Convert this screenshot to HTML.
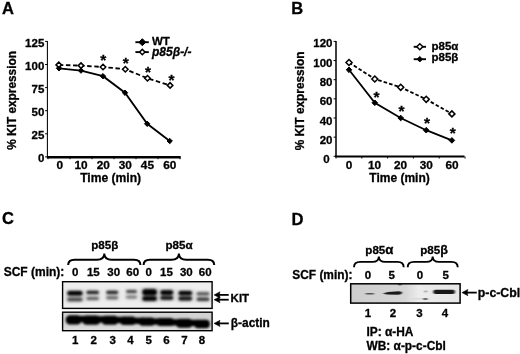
<!DOCTYPE html>
<html><head><meta charset="utf-8"><title>Figure</title>
<style>
html,body{margin:0;padding:0;background:#fff;}
svg{display:block;opacity:0.999;font-family:"Liberation Sans",sans-serif;font-weight:bold;fill:#000;}
text{stroke:#000;stroke-width:0.3px;}
</style></head><body>
<svg width="520" height="354" viewBox="0 0 520 354">
<rect width="520" height="354" fill="#fff"/>
<text x="2.00" y="13.80" font-size="16.5" text-anchor="start">A</text>
<path d="M47.4 40.9 V157.2" fill="none" stroke="#000" stroke-width="1.05"/>
<path d="M46.9 157.2 H180.7" fill="none" stroke="#000" stroke-width="2.4"/>
<path d="M45.1 41.40 H47.4" stroke="#000" stroke-width="1"/>
<text x="44.30" y="47.40" font-size="11.5" text-anchor="end">125</text>
<path d="M45.1 64.50 H47.4" stroke="#000" stroke-width="1"/>
<text x="44.30" y="70.25" font-size="11.5" text-anchor="end">100</text>
<path d="M45.1 87.60 H47.4" stroke="#000" stroke-width="1"/>
<text x="44.30" y="93.10" font-size="11.5" text-anchor="end">75</text>
<path d="M45.1 110.70 H47.4" stroke="#000" stroke-width="1"/>
<text x="44.30" y="115.95" font-size="11.5" text-anchor="end">50</text>
<path d="M45.1 133.80 H47.4" stroke="#000" stroke-width="1"/>
<text x="44.30" y="138.80" font-size="11.5" text-anchor="end">25</text>
<path d="M45.1 156.90 H47.4" stroke="#000" stroke-width="1"/>
<text x="44.30" y="161.65" font-size="11.5" text-anchor="end">0</text>
<path d="M48 157.2 v2" stroke="#000" stroke-width="1"/>
<path d="M70 157.2 v2" stroke="#000" stroke-width="1"/>
<path d="M92 157.2 v2" stroke="#000" stroke-width="1"/>
<path d="M114 157.2 v2" stroke="#000" stroke-width="1"/>
<path d="M136 157.2 v2" stroke="#000" stroke-width="1"/>
<path d="M158 157.2 v2" stroke="#000" stroke-width="1"/>
<path d="M180 157.2 v2" stroke="#000" stroke-width="1"/>
<text x="59.70" y="169.20" font-size="11.8" text-anchor="middle">0</text>
<text x="81.10" y="169.20" font-size="11.8" text-anchor="middle">10</text>
<text x="103.30" y="169.20" font-size="11.8" text-anchor="middle">20</text>
<text x="125.20" y="169.20" font-size="11.8" text-anchor="middle">30</text>
<text x="147.40" y="169.20" font-size="11.8" text-anchor="middle">45</text>
<text x="169.80" y="169.20" font-size="11.8" text-anchor="middle">60</text>
<text x="110.60" y="182.00" font-size="12.1" text-anchor="middle">Time (min)</text>
<text transform="translate(16.3,100.4) rotate(-90)" font-size="11.85" text-anchor="middle">% KIT expression</text>
<polyline points="59.00,68.30 81.00,70.60 103.00,76.20 125.00,92.75 147.20,123.80 169.70,141.00" fill="none" stroke="#000" stroke-width="1.8"/>
<polyline points="58.80,64.90 81.00,65.60 103.00,67.00 125.30,69.20 147.50,78.30 170.10,85.40" fill="none" stroke="#000" stroke-width="1.8" stroke-dasharray="4.5 2.6"/>
<path d="M56.30 68.30 L59.00 65.60 L61.70 68.30 L59.00 71.00 Z" fill="#000" stroke="#000" stroke-width="1"/>
<path d="M78.30 70.60 L81.00 67.90 L83.70 70.60 L81.00 73.30 Z" fill="#000" stroke="#000" stroke-width="1"/>
<path d="M100.30 76.20 L103.00 73.50 L105.70 76.20 L103.00 78.90 Z" fill="#000" stroke="#000" stroke-width="1"/>
<path d="M122.30 92.75 L125.00 90.05 L127.70 92.75 L125.00 95.45 Z" fill="#000" stroke="#000" stroke-width="1"/>
<path d="M144.50 123.80 L147.20 121.10 L149.90 123.80 L147.20 126.50 Z" fill="#000" stroke="#000" stroke-width="1"/>
<path d="M167.00 141.00 L169.70 138.30 L172.40 141.00 L169.70 143.70 Z" fill="#000" stroke="#000" stroke-width="1"/>
<path d="M56.05 64.90 L58.80 62.15 L61.55 64.90 L58.80 67.65 Z" fill="#fff" stroke="#000" stroke-width="1.5"/>
<path d="M78.25 65.60 L81.00 62.85 L83.75 65.60 L81.00 68.35 Z" fill="#fff" stroke="#000" stroke-width="1.5"/>
<path d="M100.25 67.00 L103.00 64.25 L105.75 67.00 L103.00 69.75 Z" fill="#fff" stroke="#000" stroke-width="1.5"/>
<path d="M122.55 69.20 L125.30 66.45 L128.05 69.20 L125.30 71.95 Z" fill="#fff" stroke="#000" stroke-width="1.5"/>
<path d="M144.75 78.30 L147.50 75.55 L150.25 78.30 L147.50 81.05 Z" fill="#fff" stroke="#000" stroke-width="1.5"/>
<path d="M167.35 85.40 L170.10 82.65 L172.85 85.40 L170.10 88.15 Z" fill="#fff" stroke="#000" stroke-width="1.5"/>
<text x="103.30" y="65.20" font-size="15.5" text-anchor="middle">*</text>
<text x="125.70" y="68.20" font-size="15.5" text-anchor="middle">*</text>
<text x="148.10" y="77.30" font-size="15.5" text-anchor="middle">*</text>
<text x="171.50" y="84.80" font-size="15.5" text-anchor="middle">*</text>
<path d="M135.4 42.2 H148.8" stroke="#000" stroke-width="1.9"/>
<path d="M138.80 42.20 L142.30 38.70 L145.80 42.20 L142.30 45.70 Z" fill="#000" stroke="#000" stroke-width="1"/>
<path d="M135.4 52.1 H148.8" stroke="#000" stroke-width="1.9"/>
<path d="M139.60 52.10 L142.30 49.40 L145.00 52.10 L142.30 54.80 Z" fill="#fff" stroke="#000" stroke-width="1.45"/>
<text x="152.00" y="44.70" font-size="11.5" text-anchor="start">WT</text>
<text x="152.00" y="55.60" font-size="12" text-anchor="start" font-style="italic">p85β-/-</text>
<text x="291.30" y="13.80" font-size="16.5" text-anchor="start">B</text>
<path d="M336 40.9 V156.5" fill="none" stroke="#000" stroke-width="1.5"/>
<path d="M335.3 156.5 H464.5" fill="none" stroke="#000" stroke-width="1.9"/>
<path d="M333.6 41.40 H336" stroke="#000" stroke-width="1"/>
<text x="332.50" y="47.45" font-size="11.5" text-anchor="end">120</text>
<path d="M333.6 60.55 H336" stroke="#000" stroke-width="1"/>
<text x="332.50" y="66.78" font-size="11.5" text-anchor="end">100</text>
<path d="M333.6 79.70 H336" stroke="#000" stroke-width="1"/>
<text x="332.50" y="86.11" font-size="11.5" text-anchor="end">80</text>
<path d="M333.6 98.85 H336" stroke="#000" stroke-width="1"/>
<text x="332.50" y="105.44" font-size="11.5" text-anchor="end">60</text>
<path d="M333.6 118.00 H336" stroke="#000" stroke-width="1"/>
<text x="332.50" y="124.77" font-size="11.5" text-anchor="end">40</text>
<path d="M333.6 137.15 H336" stroke="#000" stroke-width="1"/>
<text x="332.50" y="144.10" font-size="11.5" text-anchor="end">20</text>
<path d="M333.6 156.30 H336" stroke="#000" stroke-width="1"/>
<text x="329.70" y="163.43" font-size="11.5" text-anchor="end">0</text>
<path d="M336.00 156.5 v2" stroke="#000" stroke-width="1"/>
<path d="M361.80 156.5 v2" stroke="#000" stroke-width="1"/>
<path d="M387.60 156.5 v2" stroke="#000" stroke-width="1"/>
<path d="M413.40 156.5 v2" stroke="#000" stroke-width="1"/>
<path d="M439.20 156.5 v2" stroke="#000" stroke-width="1"/>
<path d="M465.00 156.5 v2" stroke="#000" stroke-width="1"/>
<text x="349.00" y="168.70" font-size="11.8" text-anchor="middle">0</text>
<text x="374.60" y="168.70" font-size="11.8" text-anchor="middle">10</text>
<text x="400.60" y="168.70" font-size="11.8" text-anchor="middle">20</text>
<text x="426.30" y="168.70" font-size="11.8" text-anchor="middle">30</text>
<text x="452.00" y="168.70" font-size="11.8" text-anchor="middle">60</text>
<text x="399.50" y="182.00" font-size="12" text-anchor="middle">Time (min)</text>
<text transform="translate(304.2,100.9) rotate(-90)" font-size="11.85" text-anchor="middle">% KIT expression</text>
<polyline points="349.00,62.50 374.80,79.00 400.70,87.30 426.20,99.30 451.90,113.90" fill="none" stroke="#000" stroke-width="1.8" stroke-dasharray="3.6 2.1"/>
<polyline points="349.00,69.80 374.80,102.80 400.70,118.00 426.20,130.20 451.90,140.40" fill="none" stroke="#000" stroke-width="1.8"/>
<path d="M346.00 62.50 L349.00 59.50 L352.00 62.50 L349.00 65.50 Z" fill="#fff" stroke="#000" stroke-width="1.55"/>
<path d="M371.80 79.00 L374.80 76.00 L377.80 79.00 L374.80 82.00 Z" fill="#fff" stroke="#000" stroke-width="1.55"/>
<path d="M397.70 87.30 L400.70 84.30 L403.70 87.30 L400.70 90.30 Z" fill="#fff" stroke="#000" stroke-width="1.55"/>
<path d="M423.20 99.30 L426.20 96.30 L429.20 99.30 L426.20 102.30 Z" fill="#fff" stroke="#000" stroke-width="1.55"/>
<path d="M448.90 113.90 L451.90 110.90 L454.90 113.90 L451.90 116.90 Z" fill="#fff" stroke="#000" stroke-width="1.55"/>
<path d="M346.20 69.80 L349.00 67.00 L351.80 69.80 L349.00 72.60 Z" fill="#000" stroke="#000" stroke-width="1"/>
<path d="M372.00 102.80 L374.80 100.00 L377.60 102.80 L374.80 105.60 Z" fill="#000" stroke="#000" stroke-width="1"/>
<path d="M397.90 118.00 L400.70 115.20 L403.50 118.00 L400.70 120.80 Z" fill="#000" stroke="#000" stroke-width="1"/>
<path d="M423.40 130.20 L426.20 127.40 L429.00 130.20 L426.20 133.00 Z" fill="#000" stroke="#000" stroke-width="1"/>
<path d="M449.10 140.40 L451.90 137.60 L454.70 140.40 L451.90 143.20 Z" fill="#000" stroke="#000" stroke-width="1"/>
<text x="376.40" y="101.70" font-size="15.5" text-anchor="middle">*</text>
<text x="401.60" y="116.20" font-size="15.5" text-anchor="middle">*</text>
<text x="427.10" y="127.90" font-size="15.5" text-anchor="middle">*</text>
<text x="452.80" y="137.90" font-size="15.5" text-anchor="middle">*</text>
<path d="M413.7 46.8 H426" stroke="#000" stroke-width="1.9"/>
<path d="M416.80 46.80 L419.80 43.80 L422.80 46.80 L419.80 49.80 Z" fill="#fff" stroke="#000" stroke-width="1.5"/>
<path d="M413.7 59.2 H426" stroke="#000" stroke-width="1.9"/>
<path d="M417.10 59.20 L419.80 56.50 L422.50 59.20 L419.80 61.90 Z" fill="#000" stroke="#000" stroke-width="1"/>
<text x="431.50" y="49.70" font-size="11.5" text-anchor="start">p85α</text>
<text x="431.50" y="61.40" font-size="11.5" text-anchor="start">p85β</text>
<text x="2.00" y="224.30" font-size="16.5" text-anchor="start">C</text>
<text x="104.70" y="249.00" font-size="11.6" text-anchor="middle">p85β</text>
<text x="179.00" y="249.00" font-size="11.6" text-anchor="middle">p85α</text>
<path d="M68.2 265 Q68.2 259.7 74.50000000000001 259.7 H97.00000000000003 Q104.30000000000001 259.7 104.30000000000001 253.4 Q104.30000000000001 259.7 111.6 259.7 H134.1 Q140.4 259.7 140.4 265" fill="none" stroke="#000" stroke-width="2.0"/>
<path d="M143.6 265 Q143.6 259.7 149.9 259.7 H171.6 Q178.89999999999998 259.7 178.89999999999998 253.4 Q178.89999999999998 259.7 186.19999999999996 259.7 H207.89999999999998 Q214.2 259.7 214.2 265" fill="none" stroke="#000" stroke-width="2.0"/>
<text x="3.70" y="276.40" font-size="12" text-anchor="start">SCF (min):</text>
<text x="75.10" y="276.40" font-size="11.5" text-anchor="middle">0</text>
<text x="93.30" y="276.40" font-size="11.5" text-anchor="middle">15</text>
<text x="113.75" y="276.40" font-size="11.5" text-anchor="middle">30</text>
<text x="132.70" y="276.40" font-size="11.5" text-anchor="middle">60</text>
<text x="148.80" y="276.40" font-size="11.5" text-anchor="middle">0</text>
<text x="166.50" y="276.40" font-size="11.5" text-anchor="middle">15</text>
<text x="186.30" y="276.40" font-size="11.5" text-anchor="middle">30</text>
<text x="205.20" y="276.40" font-size="11.5" text-anchor="middle">60</text>
<defs><filter id="b1" x="-30%" y="-80%" width="160%" height="260%"><feGaussianBlur stdDeviation="0.9 0.8"/></filter><filter id="b0" x="-30%" y="-80%" width="160%" height="260%"><feGaussianBlur stdDeviation="2 1.6"/></filter><filter id="b2" x="-20%" y="-50%" width="140%" height="200%"><feGaussianBlur stdDeviation="0.9 0.85"/></filter><filter id="b3" x="-30%" y="-100%" width="160%" height="300%"><feGaussianBlur stdDeviation="0.9 0.7"/></filter><linearGradient id="gd" x1="0" x2="1" y1="0" y2="0"><stop offset="0" stop-color="#cdcdcd"/><stop offset="0.5" stop-color="#d6d6d6"/><stop offset="0.62" stop-color="#ececec"/><stop offset="1" stop-color="#e6e6e6"/></linearGradient><linearGradient id="ga" x1="0" x2="0" y1="0" y2="1"><stop offset="0" stop-color="#d6d6d6"/><stop offset="0.5" stop-color="#cccccc"/><stop offset="1" stop-color="#e0e0e0"/></linearGradient><clipPath id="c1"><rect x="62.6" y="281.7" width="149.5" height="26.7"/></clipPath><clipPath id="c2"><rect x="62.6" y="312.2" width="149.5" height="18.5"/></clipPath><clipPath id="c3"><rect x="350.7" y="283.8" width="109.4" height="19.3"/></clipPath></defs>
<rect x="62.6" y="281.7" width="149.5" height="26.7" fill="#eeeeee"/>
<g clip-path="url(#c1)">
<g filter="url(#b0)">
<rect x="66.9" y="289.9" width="16.0" height="12.3" fill="#000" opacity="0.27"/>
<rect x="86.1" y="289.8" width="13.2" height="11.3" fill="#000" opacity="0.18"/>
<rect x="105.9" y="289.7" width="12.6" height="10.6" fill="#000" opacity="0.18"/>
<rect x="125.7" y="289.0" width="11.6" height="10.6" fill="#000" opacity="0.15"/>
<rect x="142.0" y="288.2" width="15.2" height="13.5" fill="#000" opacity="0.36"/>
<rect x="160.0" y="289.3" width="13.6" height="11.4" fill="#000" opacity="0.30"/>
<rect x="178.2" y="290.1" width="14.2" height="11.3" fill="#000" opacity="0.30"/>
<rect x="196.3" y="291.2" width="13.4" height="10.9" fill="#000" opacity="0.18"/>
</g><g filter="url(#b1)">
<rect x="67.3" y="290.9" width="15.2" height="4.6" rx="2.3" fill="#000" opacity="0.97"/>
<rect x="67.3" y="297.8" width="15.2" height="3.4" rx="1.7" fill="#000" opacity="0.55"/>
<rect x="86.5" y="290.8" width="12.4" height="3.2" rx="1.6" fill="#000" opacity="0.8"/>
<rect x="86.5" y="297.1" width="12.4" height="3.0" rx="1.5" fill="#000" opacity="0.47"/>
<rect x="106.3" y="290.7" width="11.8" height="3.2" rx="1.6" fill="#000" opacity="0.78"/>
<rect x="106.3" y="296.3" width="11.8" height="3.0" rx="1.5" fill="#000" opacity="0.45"/>
<rect x="126.1" y="290.0" width="10.8" height="3.0" rx="1.5" fill="#000" opacity="0.64"/>
<rect x="126.1" y="295.8" width="10.8" height="2.8" rx="1.4" fill="#000" opacity="0.38"/>
<rect x="142.4" y="289.2" width="14.4" height="6.0" rx="3.0" fill="#000" opacity="1.0"/>
<rect x="142.4" y="296.3" width="14.4" height="4.4" rx="2.2" fill="#000" opacity="0.97"/>
<rect x="160.4" y="290.3" width="12.8" height="4.6" rx="2.3" fill="#000" opacity="0.97"/>
<rect x="160.4" y="296.1" width="12.8" height="3.6" rx="1.8" fill="#000" opacity="0.85"/>
<rect x="178.6" y="291.1" width="13.4" height="4.2" rx="2.1" fill="#000" opacity="0.95"/>
<rect x="178.6" y="296.6" width="13.4" height="3.9" rx="1.95" fill="#000" opacity="0.85"/>
<rect x="196.7" y="292.2" width="12.6" height="3.0" rx="1.5" fill="#000" opacity="0.55"/>
<rect x="196.7" y="297.6" width="12.6" height="3.5" rx="1.75" fill="#000" opacity="0.66"/>
</g></g>
<rect x="62.6" y="281.7" width="149.5" height="26.7" fill="none" stroke="#000" stroke-width="1.4"/>
<rect x="62.6" y="312.2" width="149.5" height="18.5" fill="url(#ga)"/>
<g clip-path="url(#c2)" filter="url(#b2)">
<rect x="65.7" y="315.2" width="15.7" height="9.3" rx="4.4" fill="#000"/>
<rect x="76.9" y="315.9" width="9.8" height="6.3" fill="#000"/>
<rect x="82.2" y="315.4" width="18.3" height="9.3" rx="4.4" fill="#000"/>
<rect x="96.0" y="316.2" width="10.0" height="6.3" fill="#000"/>
<rect x="101.5" y="315.8" width="17.0" height="9.0" rx="4.2" fill="#000"/>
<rect x="114.0" y="316.8" width="10.5" height="6.3" fill="#000"/>
<rect x="120.0" y="316.6" width="16.0" height="8.5" rx="4.0" fill="#000"/>
<rect x="131.5" y="317.7" width="11.8" height="6.3" fill="#000"/>
<rect x="138.8" y="317.5" width="16.2" height="8.2" rx="3.8" fill="#000"/>
<rect x="150.5" y="318.4" width="10.5" height="6.3" fill="#000"/>
<rect x="156.5" y="317.9" width="17.7" height="8.2" rx="3.8" fill="#000"/>
<rect x="169.7" y="319.2" width="10.6" height="6.3" fill="#000"/>
<rect x="175.8" y="318.7" width="16.9" height="9.0" rx="4.2" fill="#000"/>
<rect x="188.2" y="319.8" width="10.5" height="6.3" fill="#000"/>
<rect x="194.2" y="319.7" width="15.6" height="8.6" rx="4.0" fill="#000"/>
</g>
<rect x="62.6" y="312.2" width="149.5" height="18.5" fill="none" stroke="#000" stroke-width="1.4"/>
<text x="75.10" y="344.00" font-size="11.5" text-anchor="middle">1</text>
<text x="93.80" y="344.00" font-size="11.5" text-anchor="middle">2</text>
<text x="112.60" y="344.00" font-size="11.5" text-anchor="middle">3</text>
<text x="130.50" y="344.00" font-size="11.5" text-anchor="middle">4</text>
<text x="148.75" y="344.00" font-size="11.5" text-anchor="middle">5</text>
<text x="166.50" y="344.00" font-size="11.5" text-anchor="middle">6</text>
<text x="184.50" y="344.00" font-size="11.5" text-anchor="middle">7</text>
<text x="202.00" y="344.00" font-size="11.5" text-anchor="middle">8</text>
<path d="M217 294.9 H228.7" stroke="#000" stroke-width="1.8"/><path d="M214 294.9 L220 291.79999999999995 L219.2 294.9 L220 298.0 Z" fill="#000" stroke="#000" stroke-width="0.5" stroke-linejoin="round"/>
<path d="M217 299.7 H228.7" stroke="#000" stroke-width="1.8"/><path d="M214 299.7 L220 296.59999999999997 L219.2 299.7 L220 302.8 Z" fill="#000" stroke="#000" stroke-width="0.5" stroke-linejoin="round"/>
<text x="230.60" y="301.70" font-size="11.5" text-anchor="start">KIT</text>
<path d="M217 323.4 H228.8" stroke="#000" stroke-width="1.8"/><path d="M214 323.4 L220 320.29999999999995 L219.2 323.4 L220 326.5 Z" fill="#000" stroke="#000" stroke-width="0.5" stroke-linejoin="round"/>
<text x="230.80" y="326.60" font-size="11.9" text-anchor="start">β-actin</text>
<text x="291.50" y="224.50" font-size="16.6" text-anchor="start">D</text>
<text x="365.30" y="254.00" font-size="11.6" text-anchor="start">p85<tspan font-size="13.2">α</tspan></text>
<text x="420.20" y="254.00" font-size="11.6" text-anchor="start">p85<tspan font-size="12.6">β</tspan></text>
<path d="M354 267.2 Q354 261.9 360.3 261.9 H372.35 Q378.85 261.9 378.85 256.4 Q378.85 261.9 385.35 261.9 H397.4 Q403.7 261.9 403.7 267.2" fill="none" stroke="#000" stroke-width="1.9"/>
<path d="M407.7 267.2 Q407.7 261.9 414.0 261.9 H426.2 Q432.7 261.9 432.7 256.4 Q432.7 261.9 439.2 261.9 H451.4 Q457.7 261.9 457.7 267.2" fill="none" stroke="#000" stroke-width="1.9"/>
<text x="292.30" y="279.00" font-size="11.9" text-anchor="start">SCF (min):</text>
<text x="368.00" y="278.90" font-size="11.5" text-anchor="middle">0</text>
<text x="391.80" y="278.90" font-size="11.5" text-anchor="middle">5</text>
<text x="420.00" y="278.90" font-size="11.5" text-anchor="middle">0</text>
<text x="445.80" y="278.90" font-size="11.5" text-anchor="middle">5</text>
<rect x="350.7" y="283.8" width="109.4" height="19.3" fill="url(#gd)"/>
<g clip-path="url(#c3)" filter="url(#b3)">
<rect x="365.5" y="292.9" width="8.5" height="1.5" rx="0.7" fill="#000" opacity="0.6"/>
<path d="M382.8 293.4 L388 292.0 L399 291.3 Q402.3 291.6 402 293.1 Q401.6 294.6 398 294.7 L387 294.6 Z" fill="#000" opacity="0.88"/>
<rect x="433.2" y="289.8" width="21.8" height="4.3" rx="2.1" fill="#000" opacity="0.9"/>
<rect x="423.2" y="297.9" width="4.4" height="2" rx="1" fill="#000" opacity="0.6"/>
<rect x="413" y="298.3" width="11" height="1.1" fill="#000" opacity="0.1"/>
<rect x="424.6" y="290.6" width="2.2" height="1.8" rx="0.9" fill="#000" opacity="0.45"/>
<rect x="398.6" y="283.2" width="2.6" height="2.4" rx="1" fill="#000" opacity="0.8"/>
</g>
<rect x="350.7" y="283.8" width="109.4" height="19.3" fill="none" stroke="#000" stroke-width="1.5"/>
<text x="368.00" y="316.70" font-size="11.5" text-anchor="middle">1</text>
<text x="393.00" y="316.70" font-size="11.5" text-anchor="middle">2</text>
<text x="419.50" y="316.70" font-size="11.5" text-anchor="middle">3</text>
<text x="445.00" y="316.70" font-size="11.5" text-anchor="middle">4</text>
<path d="M464.9 292.6 H476.8" stroke="#000" stroke-width="1.8"/><path d="M461.9 292.6 L467.9 289.5 L467.09999999999997 292.6 L467.9 295.70000000000005 Z" fill="#000" stroke="#000" stroke-width="0.5" stroke-linejoin="round"/>
<text x="477.80" y="296.50" font-size="12.3" text-anchor="start">p-c-Cbl</text>
<text x="366.50" y="335.60" font-size="11.9" text-anchor="start">IP: α-HA</text>
<text x="366.50" y="349.50" font-size="11.9" text-anchor="start">WB: α-p-c-Cbl</text>
</svg>
</body></html>
